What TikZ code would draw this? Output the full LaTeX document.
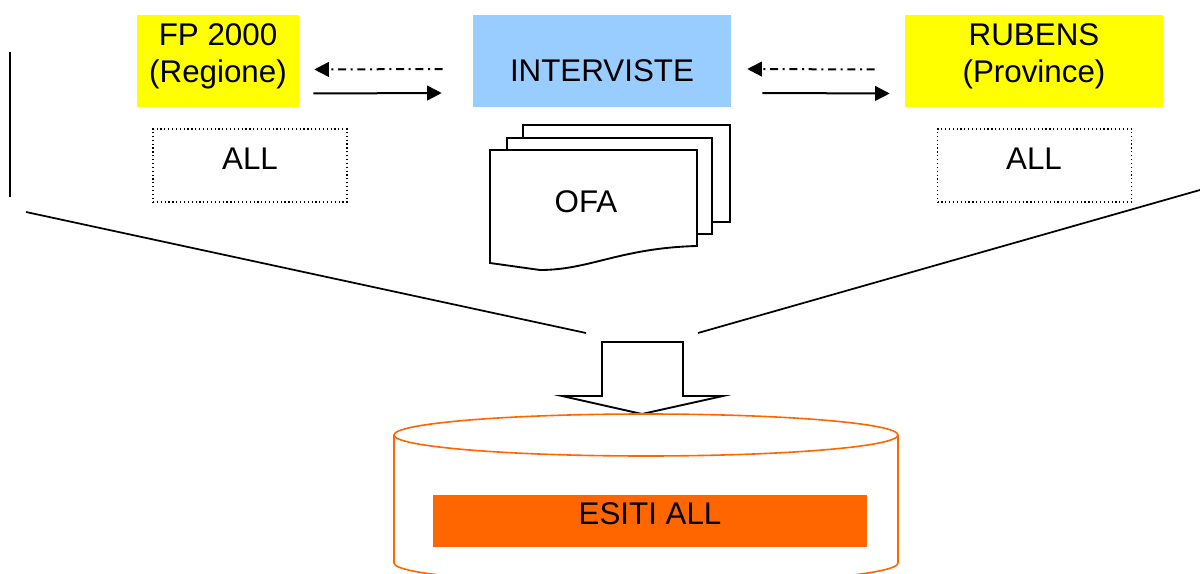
\documentclass[tikz,border=0pt]{standalone}
\usepackage{fontspec}
\setmainfont{Liberation Sans}
\usepackage{tikz}
\usetikzlibrary{calc, arrows.meta, positioning}
\definecolor{giallo}{HTML}{FFFF00}
\definecolor{azzurro}{HTML}{99CCFF}
\definecolor{arancio}{HTML}{FF6600}
\begin{document}
\begin{tikzpicture}[x=0.75pt,y=-0.75pt,
    testo/.style={font=\fontsize{23.5}{27.75}\selectfont,align=center,inner sep=0pt},
    fonte/.style={fill=giallo,minimum width=193.5pt,minimum height=69pt,inner sep=0pt},
    tabella/.style={draw,dotted,line width=0.9pt,minimum width=145.5pt,minimum height=54.75pt,inner sep=0pt},
    flusso/.style={line width=1.5pt,-{Triangle[length=11pt,width=11pt]}},
    ritorno/.style={flusso,dash pattern=on 6pt off 3.5pt on 1.5pt off 3.5pt},
    foglio/.style={line width=1.4pt,fill=white}]
    \useasboundingbox (0,0) rectangle (1200,574);
    \clip (0,0) rectangle (1200,574);
            \node[fonte,minimum width=121.5pt] (fp) at (218,61.5) {};
            \node[testo] (fptxt) at (218,56) {FP 2000\\(Regione)};
            \node[fonte,fill=azzurro] (inter) at (602,61) {};
            \node[testo] (intertxt) at (602,70.5) {INTERVISTE};
            \node[fonte] (rubens) at (1034,61.5) {};
            \node[testo] (rubenstxt) at (1034,56) {RUBENS\\(Province)};
            \node[tabella] (allL) at (250,165.5) {};
            \node[testo] (allLtxt) at (250,158.5) {ALL};
            \node[tabella] (allR) at (1034.5,165.5) {};
            \node[testo] (allRtxt) at (1034,158.5) {ALL};
            \draw[ritorno] ($(inter.west)+(-30,8)$) -- ($(fp.east)+(15,8)$);
            \draw[flusso] ($(fp.east)+(14,32)$) -- ($(inter.west)+(-31,32)$);
            \draw[ritorno] ($(rubens.west)+(-30,8)$) -- ($(inter.east)+(16,8)$);
            \draw[flusso] ($(inter.east)+(31,32)$) -- ($(rubens.west)+(-15,32)$);
            \draw[foglio] (523,138) -- (523,125) -- (730,125) -- (730,222) -- (712,222);
            \draw[foglio] (507,150) -- (507,138) -- (712,138) -- (712,234) -- (697,234);
            \draw[foglio] (490,150) -- (697,150) -- (697,246) .. controls (620,248) and (590,270) .. (540,270) -- (490,263) -- cycle;
            \node[testo] (ofa) at (586,202) {OFA};
            \draw[line width=1.3pt] (10,52) -- (10,197);
            \draw[line width=1.3pt] (26,212) -- (586,333);
            \draw[line width=1.3pt] (698,333) -- (1200,190);
            \draw[line width=1.4pt,fill=white] (602,396) -- (602,342) -- (683,342) -- (683,396) -- (723,396) -- (642,414) -- (562,396) -- cycle;
            \draw[arancio,line width=1.2pt] (394,435) -- (394,563) arc[start angle=180,end angle=0,x radius=252,y radius=21] -- (898,435);
            \draw[arancio,line width=1.2pt] (646,435) ellipse [x radius=252,y radius=21];
            \node[fill=arancio,minimum width=325.5pt,minimum height=39pt,inner sep=0pt] (esiti) at (650,521) {};
            \node[testo] (esititxt) at (650,513.5) {ESITI ALL};
        \end{tikzpicture}
\end{document}
